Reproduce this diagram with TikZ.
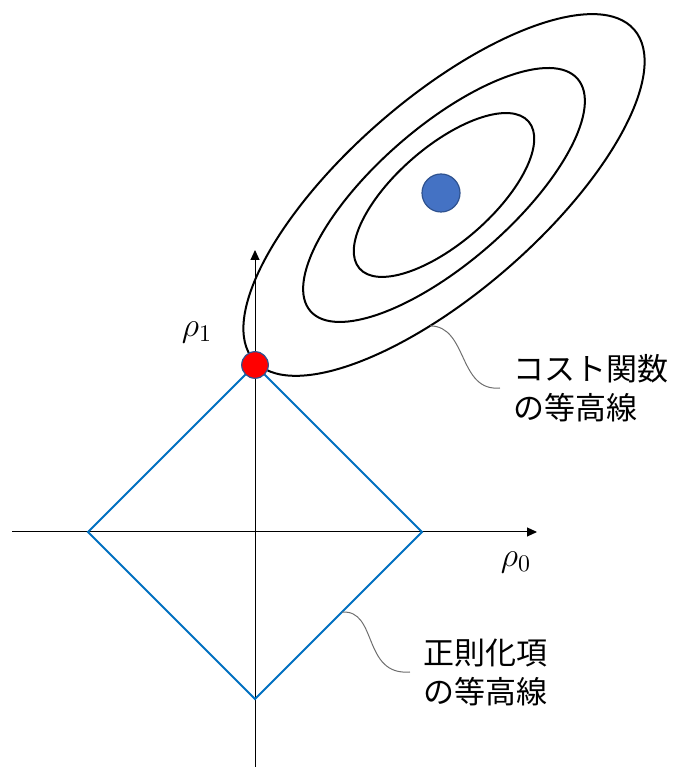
\documentclass[tikz,border=0pt]{standalone}
\usepackage{fix-cm}
\usepackage{fontspec}
\newfontfamily\jpfont{Noto Sans CJK JP}
\usetikzlibrary{arrows.meta,positioning,calc}
\definecolor{regBlue}{RGB}{0,112,192}
\definecolor{optBlue}{RGB}{68,114,196}
\definecolor{dotEdge}{RGB}{47,82,143}
\definecolor{noteGrey}{RGB}{110,110,110}

\begin{document}
\begin{tikzpicture}[x=0.5pt,y=0.5pt]
  \tikzset{
    axis/.style={draw=black,line width=0.5pt,-{Triangle[length=5pt,width=4.5pt]}},
    contour/.style={draw=black,line width=1pt},
    reg/.style={draw=regBlue,line width=0.9pt},
    dot/.style={circle,draw=dotEdge,line width=0.6pt,inner sep=0pt},
    note/.style={draw=noteGrey,line width=0.5pt},
    lbl/.style={font=\fontsize{15.5}{19.5}\selectfont\jpfont,align=left,inner sep=0pt},
    axlbl/.style={font=\fontsize{17}{20}\selectfont,inner sep=0pt}
  }
  \useasboundingbox (0,0) rectangle (675,769);
  % axes
  \coordinate (xs) at (12,237);
  \coordinate (xe) at (537,237);
  \coordinate (ys) at (255,2);
  \coordinate (ye) at (255,519);
  \draw[axis] (xs) -- (xe);
  \draw[axis] (ys) -- (ye);
  \node[axlbl] (rho1) at (197,437) {$\rho_1$};
  \node[axlbl] (rho0) at (516,207) {$\rho_0$};
  % cost contours
  \coordinate (opt) at (444,574);
  \foreach \a/\b in {252/97,177/68,112/48}
    \draw[contour,rotate around={41:(opt)}] (opt) ellipse [x radius=\a,y radius=\b];
  \path[shift={(opt)},rotate=41] (-112.5:252 and 97) coordinate (costpt);
  % regularizer contour
  \coordinate (rt) at (255,404);
  \coordinate (rr) at (422,237);
  \coordinate (rb) at (255,70);
  \coordinate (rl) at (88,237);
  \draw[reg] (rt) -- (rr) -- (rb) -- (rl) -- cycle;
  \coordinate (regpt) at ($(rr)!0.48!(rb)$);
  % dots
  \node[dot,fill=optBlue,minimum size=19pt] (w) at (441,576) {};
  \node[dot,fill=red,minimum size=13.3pt] (hit) at (rt) {};
  % notes
  \coordinate (costend) at (500,381);
  \node[lbl,right=6.5pt of costend] (costlbl) {コスト関数\\の等高線};
  \draw[note] (costpt) .. controls (468,443) and (458,377) .. (costend);
  \coordinate (regend) at (410,97);
  \node[lbl,right=6.5pt of regend] (reglbl) {正則化項\\の等高線};
  \draw[note] (regpt) .. controls (378,160) and (362,93) .. (regend);
\end{tikzpicture}
\end{document}
